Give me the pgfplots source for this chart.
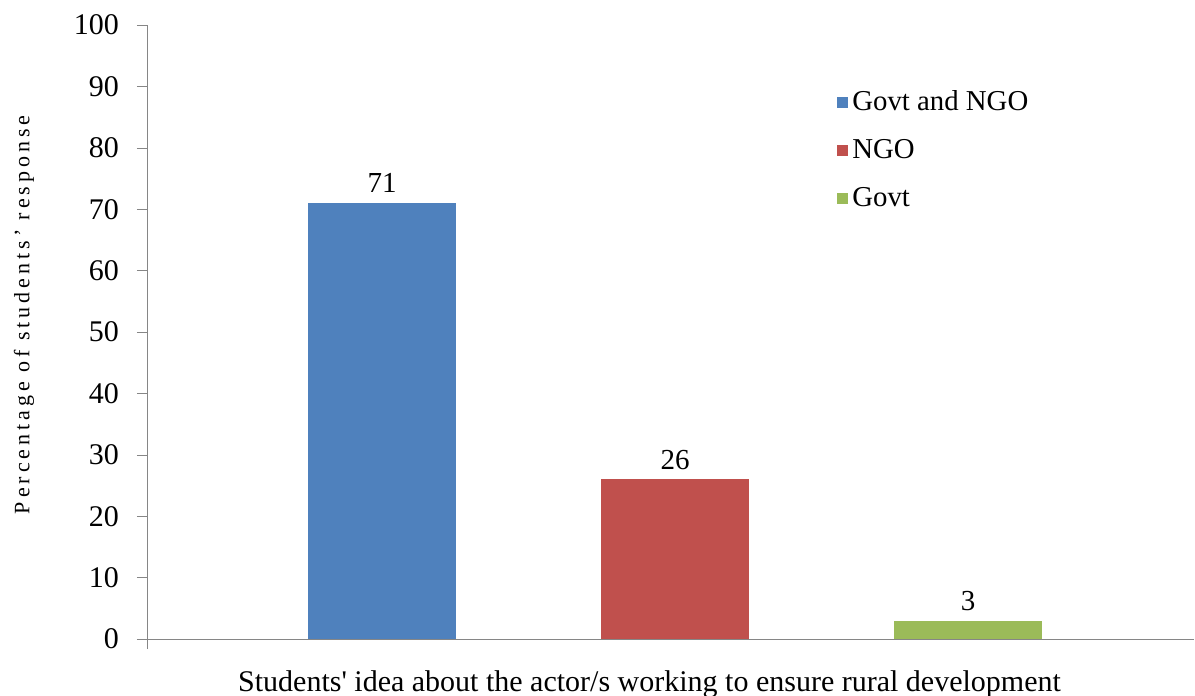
\documentclass[border=0pt]{standalone}
\usepackage{pgfplots}
\pgfplotsset{compat=1.18}
\usepackage{fontspec}
\setmainfont{Liberation Serif}
\newfontfamily\spaced[LetterSpace=18]{Liberation Serif}
\definecolor{cblue}{HTML}{4F81BD}
\definecolor{cred}{HTML}{C0504D}
\definecolor{cgreen}{HTML}{9BBB59}
\definecolor{axgray}{HTML}{868686}
\begin{document}
\begin{tikzpicture}
\begin{axis}[
    at={(0,0)}, anchor=origin,
    scale only axis, width=523.5pt, height=307pt,
    xmin=0.198, xmax=3.771, ymin=0, ymax=100,
    axis lines=left, axis line style={-, draw=axgray},
    ytick={0,10,...,100}, xtick={0.198}, xticklabels={},
    tick align=outside, major tick length=5pt,
    tick style={draw=axgray},
    ticklabel style={font=\fontsize{15}{17}\selectfont},
    /pgf/number format/assume math mode=true,
    yticklabel style={xshift=-5.5pt},
    ylabel={\spaced\fontsize{11}{13}\selectfont Percentage of students’ response},
    ylabel style={at={(axis description cs:-0.1175,0.528)}, anchor=center},
    xlabel={Students\textquotesingle\ idea about the actor/s working to ensure rural development},
    xlabel style={font=\fontsize{15}{17}\selectfont, at={(axis description cs:0.48,0)}, anchor=base, yshift=-26.5pt},
    ybar, bar width=74pt, bar shift=0pt,
    nodes near coords,
    every node near coord/.append style={font=\fontsize{14.5}{16}\selectfont, color=black, yshift=1.5pt},
    legend style={at={(0.659,0.9)}, anchor=north west, draw=none, fill=none,
        font=\fontsize{14.4}{16}\selectfont, row sep=9pt, inner sep=0pt,
        /tikz/every even column/.append style={column sep=5pt}},
    legend cell align=left,
    legend image code/.code={\fill[#1] (0pt,-2.75pt) rectangle (5.5pt,2.75pt);},
]
\addplot[fill=cblue, draw=none] coordinates {(1,71)};
\addplot[fill=cred, draw=none] coordinates {(2,26)};
\addplot[fill=cgreen, draw=none] coordinates {(3,3)};
\legend{Govt and NGO, NGO, Govt}
\end{axis}
\pgfresetboundingbox
\path (-73.5pt,-28.5pt) rectangle (524pt,319.5pt);
\end{tikzpicture}
\end{document}
